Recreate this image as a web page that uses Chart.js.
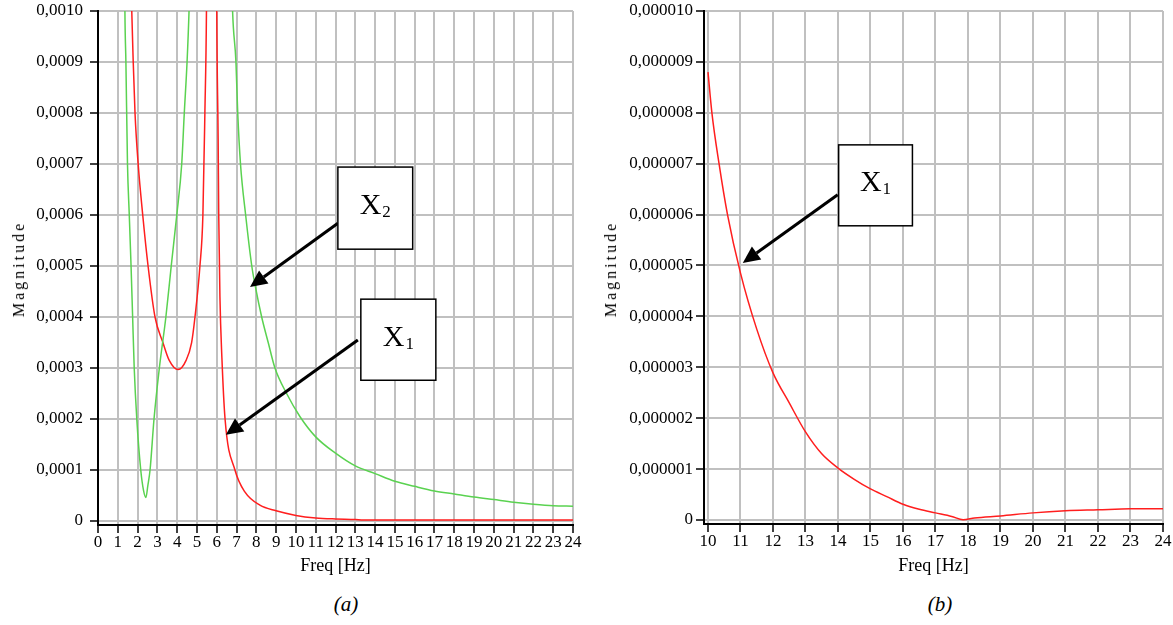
<!DOCTYPE html>
<html>
<head>
<meta charset="utf-8">
<title>Magnitude vs Freq</title>
<script src="https://cdn.jsdelivr.net/npm/chart.js@4.4.1/dist/chart.umd.min.js"></script>
<style>
  body { margin: 0; background: #fff; width: 1173px; height: 625px; position: relative; overflow: hidden;
         font-family: "Liberation Serif", "Times New Roman", serif; }
  .panel { position: absolute; top: 0; }
  .caption { position: absolute; top: 592px; width: 100px; text-align: center; font-style: italic; font-size: 21px; }
  .ytitle { position: absolute; top: 269px; font-size: 16px; letter-spacing: 3px; white-space: nowrap;
            transform: translate(-50%, -50%) rotate(-90deg); }
</style>
</head>
<body>
<canvas id="chartA" class="panel" style="left:0" width="590" height="580"></canvas>
<canvas id="chartB" class="panel" style="left:590px" width="583" height="580"></canvas>
<div class="ytitle" style="left:19px">Magnitude</div>
<div class="ytitle" style="left:611px">Magnitude</div>
<div class="caption" style="left:296px">(a)</div>
<div class="caption" style="left:890px">(b)</div>
<script>
// (a) 0 - 24 Hz, X1 (red)
var freqA1 = [0.5, 1.0, 1.4, 1.67, 1.78, 1.87, 2.03, 2.26, 2.53, 2.88, 3.28, 3.6, 4.05, 4.45, 4.73, 4.9,
              5.15, 5.3, 5.4, 5.48, 5.6, 5.75, 5.9, 6.0, 6.07, 6.1, 6.16, 6.26, 6.42, 6.92, 7.42, 8.18, 9.0,
              10.0, 11.0, 12.0, 13.0, 13.4, 15, 18, 21, 24];
var magA1 = [0.006, 0.0035, 0.0016, 0.00105, 0.0009, 0.0008, 0.0007, 0.0006, 0.0005, 0.0004, 0.00035,
             0.000315, 0.000297, 0.000315, 0.00035, 0.0004, 0.0005, 0.0006, 0.0008, 0.001, 0.0018, 0.004,
             0.002, 0.001, 0.00075, 0.0006, 0.00044, 0.00032, 0.0002, 0.0001, 0.000057, 0.000031, 0.00002,
             0.000011, 0.000006, 0.000004, 0.000003, 0.000002, 0.000002, 0.000002, 0.000002, 0.000002];

// (a) X2 (green)
var freqA2 = [0.5, 1.0, 1.2, 1.36, 1.41, 1.49, 1.58, 1.67, 1.75, 1.83, 1.96, 2.16, 2.3, 2.42, 2.52, 2.63,
              2.83, 3.1, 3.43, 3.7, 3.98, 4.23, 4.36, 4.5, 4.6, 5.0, 5.6, 6.3, 6.8, 6.97, 7.06, 7.2, 7.46,
              7.77, 7.95, 8.27, 8.6, 8.94, 9.53, 10.2, 11, 12, 13, 14, 15, 16, 17, 18, 19, 20, 21, 22, 23, 24];
var magA2 = [0.003, 0.004, 0.002, 0.001, 0.0009, 0.0007, 0.0006, 0.0005, 0.0004, 0.0003, 0.0002, 0.0001,
             0.00006, 0.000046, 0.00007, 0.0001, 0.0002, 0.0003, 0.0004, 0.0005, 0.0006, 0.0007, 0.0008,
             0.0009, 0.001, 0.0016, 0.004, 0.0018, 0.001, 0.0009, 0.0008, 0.0007, 0.0006, 0.0005, 0.00046,
             0.0004, 0.00035, 0.0003, 0.00025, 0.000205, 0.000165, 0.000133, 0.000108, 0.000093, 0.000078,
             0.000068, 0.000059, 0.000053, 0.000047, 0.000042, 0.000037, 0.000033, 0.00003, 0.000029];

// (b) 10 - 24 Hz, X1 (red)
var freqB1 = [10, 10.12, 10.34, 10.6, 11, 11.5, 12, 12.5, 13, 13.5, 14, 14.5, 15, 15.5, 16, 16.5, 17,
              17.5, 17.85, 18.2, 19, 20, 21, 22, 23, 24];
var magB1 = [0.0000088, 0.000008, 0.000007, 0.000006, 0.00000485, 0.00000375, 0.00000289, 0.0000023,
             0.00000173, 0.0000013, 0.00000102, 0.0000008, 0.00000061, 0.00000046, 0.00000031, 0.00000021,
             0.00000014, 0.00000007, 0.000000005, 0.00000004, 0.00000008, 0.00000014, 0.00000018,
             0.0000002, 0.00000022, 0.00000022];

// tick labels
var freqTicksA = [0, 1, 2, 3, 4, 5, 6, 7, 8, 9, 10, 11, 12, 13, 14, 15, 16, 17, 18, 19, 20, 21, 22, 23, 24];
var magTicksA = [0, 0.0001, 0.0002, 0.0003, 0.0004, 0.0005, 0.0006, 0.0007, 0.0008, 0.0009, 0.001];
var freqTicksB = [10, 11, 12, 13, 14, 15, 16, 17, 18, 19, 20, 21, 22, 23, 24];
var magTicksB = [0, 0.000001, 0.000002, 0.000003, 0.000004, 0.000005, 0.000006, 0.000007, 0.000008,
                 0.000009, 0.00001];

Chart.defaults.font.family = '"Liberation Serif", "Times New Roman", serif';
Chart.defaults.color = '#000';
Chart.defaults.animation = false;

var RED = 'rgb(255, 30, 30)';
var GREEN = 'rgb(90, 210, 80)';

function toPoints(xs, ys) {
  return xs.map(function (x, i) { return { x: x, y: ys[i] }; });
}

function series(xs, ys, color) {
  return {
    data: toPoints(xs, ys),
    borderColor: color,
    borderWidth: 1.5,
    pointRadius: 0,
    showLine: true,
    cubicInterpolationMode: 'monotone'
  };
}

function commaLabel(digits) {
  return function (v) { return v === 0 ? '0' : Number(v).toFixed(digits).replace('.', ','); };
}

function fixedTicks(list) {
  return function (scale) { scale.ticks = list.map(function (v) { return { value: v }; }); };
}

// boxed "X1"/"X2" labels with arrows, placed in data units
function callouts(items) {
  return {
    id: 'callouts',
    afterDatasetsDraw: function (chart) {
      var ctx = chart.ctx, sx = chart.scales.x, sy = chart.scales.y;
      ctx.save();
      items.forEach(function (n) {
        var fx = sx.getPixelForValue(n.from[0]), fy = sy.getPixelForValue(n.from[1]);
        var tx = sx.getPixelForValue(n.to[0]), ty = sy.getPixelForValue(n.to[1]);
        var a = Math.atan2(ty - fy, tx - fx), len = 17, half = 8;
        var bx = tx - Math.cos(a) * len, by = ty - Math.sin(a) * len;
        ctx.strokeStyle = '#000';
        ctx.fillStyle = '#000';
        ctx.lineWidth = 3;
        ctx.beginPath();
        ctx.moveTo(fx, fy);
        ctx.lineTo(bx, by);
        ctx.stroke();
        ctx.beginPath();
        ctx.moveTo(tx, ty);
        ctx.lineTo(bx + Math.sin(a) * half, by - Math.cos(a) * half);
        ctx.lineTo(bx - Math.sin(a) * half, by + Math.cos(a) * half);
        ctx.closePath();
        ctx.fill();

        var x0 = sx.getPixelForValue(n.box[0]), y0 = sy.getPixelForValue(n.box[1]);
        var x1 = sx.getPixelForValue(n.box[2]), y1 = sy.getPixelForValue(n.box[3]);
        ctx.fillStyle = '#fff';
        ctx.fillRect(x0, y0, x1 - x0, y1 - y0);
        ctx.lineWidth = 1.5;
        ctx.strokeRect(x0, y0, x1 - x0, y1 - y0);

        ctx.fillStyle = '#000';
        ctx.textAlign = 'left';
        ctx.textBaseline = 'alphabetic';
        ctx.font = '30px "Liberation Serif"';
        var w1 = ctx.measureText('X').width;
        ctx.font = '17px "Liberation Serif"';
        var w2 = ctx.measureText(n.sub).width;
        var lx = (x0 + x1) / 2 - (w1 + w2 + 1) / 2, ly = (y0 + y1) / 2 + 6;
        ctx.font = '30px "Liberation Serif"';
        ctx.fillText('X', lx, ly);
        ctx.font = '17px "Liberation Serif"';
        ctx.fillText(n.sub, lx + w1 + 1, ly + 3);
      });
      ctx.restore();
    }
  };
}

function axisStyle() {
  return {
    grid: { color: 'rgb(192, 192, 192)', lineWidth: 2, tickColor: '#000', tickWidth: 1.5, tickLength: 8 },
    border: { color: '#000', width: 2 }
  };
}

function buildOptions(o) {
  var xs = axisStyle(), ys = axisStyle();
  return {
    responsive: false,
    animation: false,
    layout: { padding: { top: 11, right: o.padRight, bottom: 0, left: 0 } },
    plugins: { legend: { display: false }, tooltip: { enabled: false } },
    scales: {
      x: {
        type: 'linear', position: 'bottom', min: o.xMin, max: o.xMax,
        grid: xs.grid, border: xs.border,
        afterBuildTicks: fixedTicks(o.xTicks),
        afterFit: function (s) { s.height = o.xAxisH; s.paddingLeft = 0; s.paddingRight = 0; },
        ticks: { autoSkip: false, maxRotation: 0, minRotation: 0, padding: -1,
                 font: { size: 17 }, callback: function (v) { return String(v); } },
        title: { display: true, text: 'Freq [Hz]', font: { size: 18 }, padding: { top: 0, bottom: 3 } }
      },
      y: {
        type: 'linear', position: 'left', min: o.yMin, max: o.yMax,
        grid: ys.grid, border: ys.border,
        afterBuildTicks: fixedTicks(o.yTicks),
        afterFit: function (s) { s.width = o.yAxisW; s.paddingTop = 0; s.paddingBottom = 0; },
        ticks: { padding: o.yLabelPad, font: { size: 17 }, callback: commaLabel(o.yDigits) }
      }
    }
  };
}

new Chart(document.getElementById('chartA'), {
  type: 'scatter',
  data: { datasets: [series(freqA2, magA2, GREEN), series(freqA1, magA1, RED)] },
  options: buildOptions({
    xMin: 0, xMax: 24, yMin: -0.0000078, yMax: 0.001,
    xTicks: freqTicksA, yTicks: magTicksA, yDigits: 4,
    padRight: 17, xAxisH: 55, yAxisW: 98, yLabelPad: 7
  }),
  plugins: [callouts([
    { sub: '2', box: [12.12, 0.000694, 15.9, 0.000533], from: [12.12, 0.000584], to: [7.68, 0.000459] },
    { sub: '1', box: [13.28, 0.000435, 17.07, 0.000276], from: [13.13, 0.000355], to: [6.46, 0.000169] }
  ])]
});

new Chart(document.getElementById('chartB'), {
  type: 'scatter',
  data: { datasets: [series(freqB1, magB1, RED)] },
  options: buildOptions({
    xMin: 9.877, xMax: 24, yMin: -0.0000000786, yMax: 0.00001,
    xTicks: freqTicksB, yTicks: magTicksB, yDigits: 6,
    padRight: 10, xAxisH: 56, yAxisW: 114, yLabelPad: 3
  }),
  plugins: [callouts([
    { sub: '1', box: [14.02, 0.00000737, 16.29, 0.00000578], from: [13.99, 0.00000639], to: [11.07, 0.00000505] }
  ])]
});
</script>
</body>
</html>
